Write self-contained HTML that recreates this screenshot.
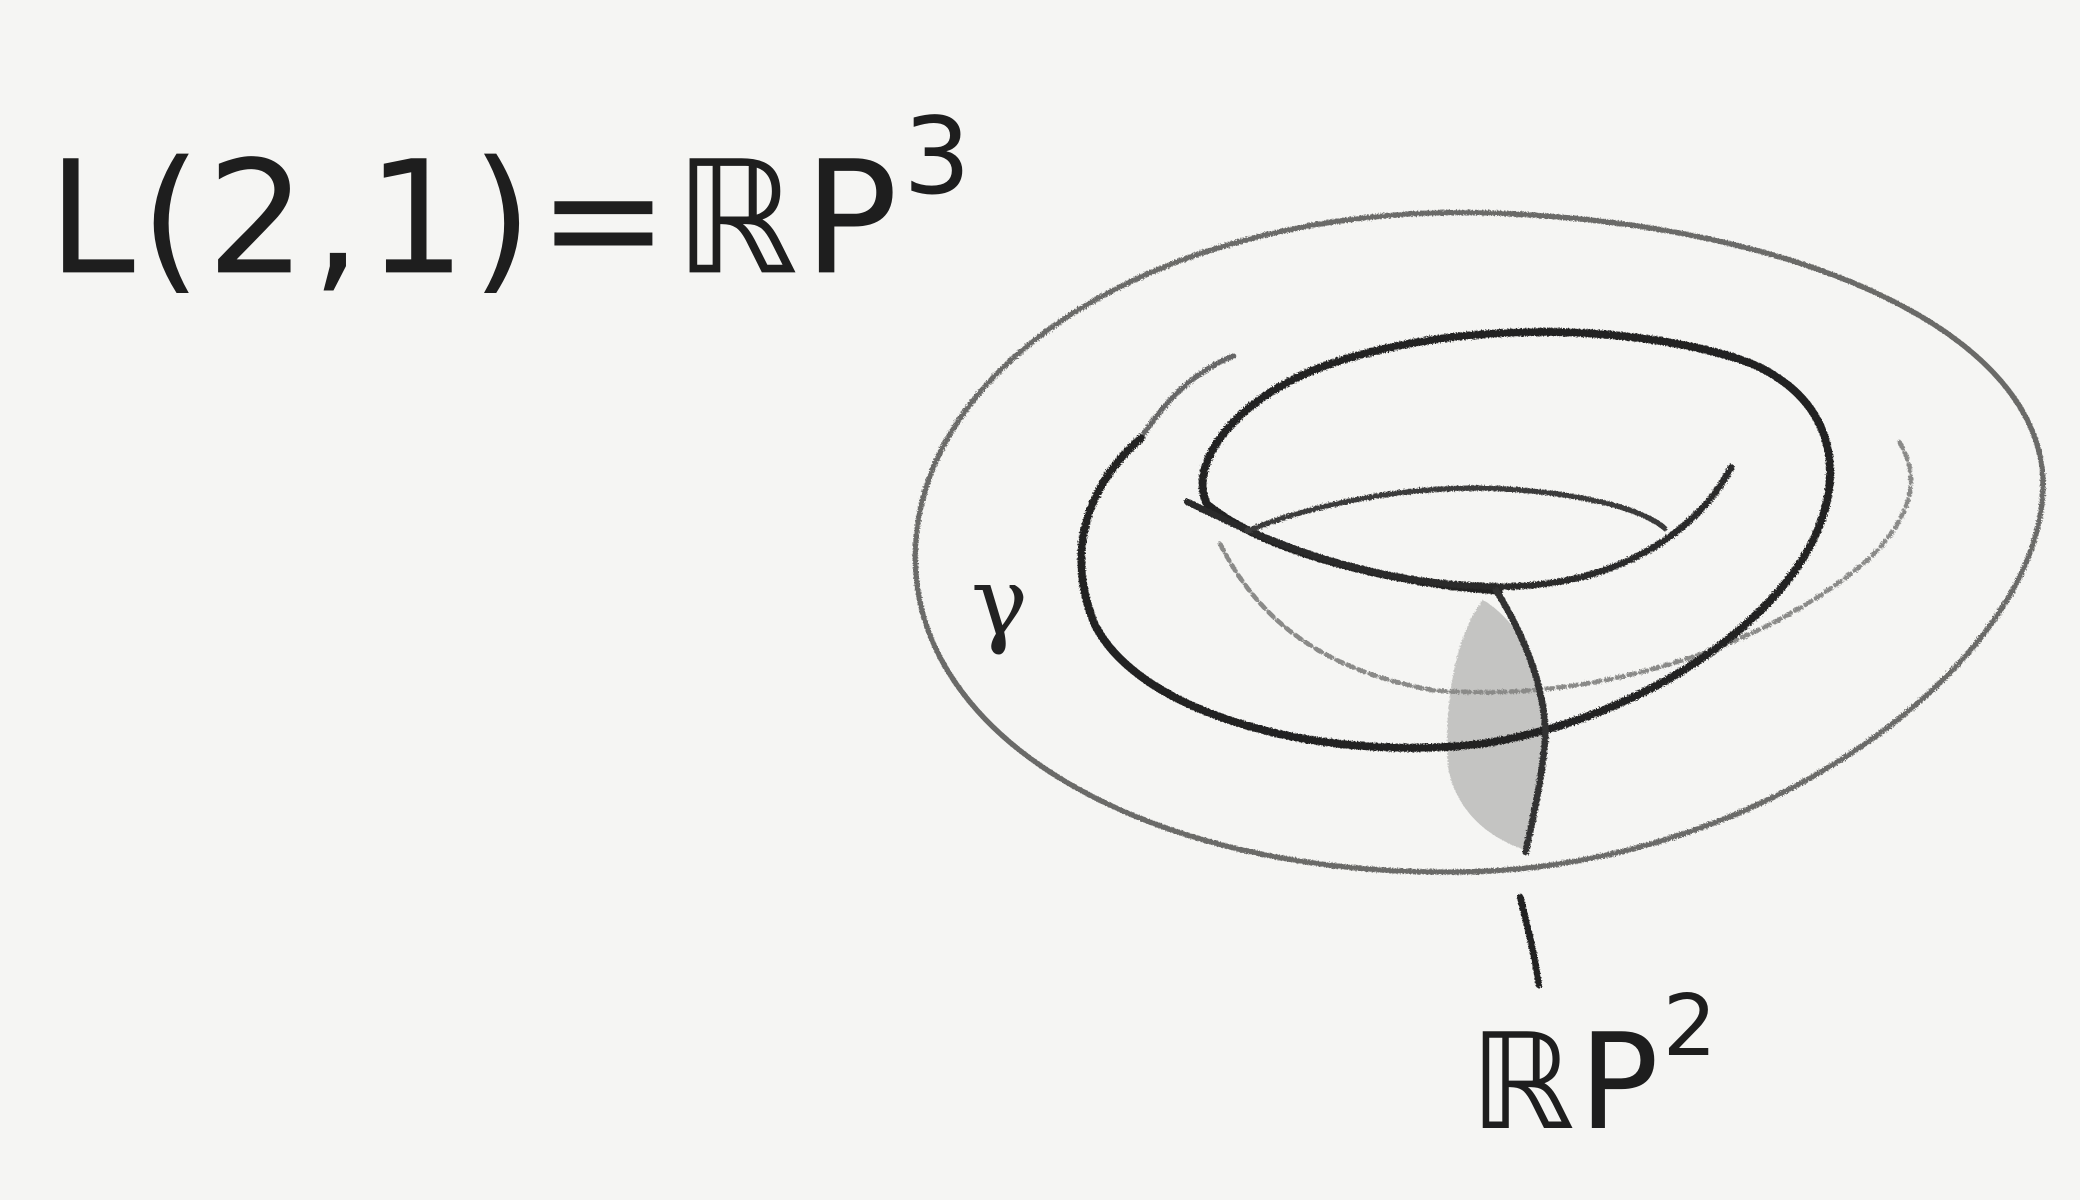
<!DOCTYPE html>
<html><head><meta charset="utf-8"><style>
html,body{margin:0;padding:0;background:#f5f5f3;}
svg{display:block;}
</style></head><body>
<svg width="2080" height="1200" viewBox="0 0 1568 904" xmlns="http://www.w3.org/2000/svg">
<defs>
<filter id="pencil"><feTurbulence type="fractalNoise" baseFrequency="0.9" numOctaves="2" seed="3" result="n"/><feDisplacementMap in="SourceGraphic" in2="n" scale="3"/></filter>
</defs>
<rect width="1568" height="904" fill="#f5f5f3"/>
<g filter="url(#pencil)" fill="none" stroke-linecap="round" stroke-linejoin="round">
<path d="M1118,452 C1095,480 1088,540 1092,580 C1098,610 1120,630 1148,640 C1160,600 1168,560 1162,520 C1155,490 1140,465 1118,452 Z" fill="#c4c4c2" stroke="none"/>
<path d="M1112,160 C1350,165 1545,250 1540,370 C1535,500 1330,655 1100,657 C870,660 690,560 690,420 C690,270 880,157 1112,160 Z" stroke="#6a6a68" stroke-width="4"/>
<path d="M920,410 C950,470 1000,505 1080,520 C1200,530 1330,490 1410,420 C1440,390 1450,360 1430,330" stroke="#8a8a88" stroke-width="3.5" stroke-dasharray="5 4"/>
<path d="M860,330 C880,300 900,280 930,268" stroke="#666" stroke-width="4"/>
<path d="M1130,445 C1060,440 960,420 910,380 C895,350 930,300 1000,275 C1100,240 1230,245 1310,270 C1370,290 1395,340 1370,400 C1340,470 1240,540 1120,560 C1000,575 860,540 825,470 C805,420 815,370 860,330" stroke="#222" stroke-width="6"/>
<path d="M895,378 C960,410 1030,440 1130,442 C1220,442 1280,400 1305,352" stroke="#2a2a2a" stroke-width="5"/>
<path d="M940,400 C990,380 1060,365 1130,368 C1200,372 1240,385 1255,398" stroke="#3a3a3a" stroke-width="4"/>
<path d="M1128,445 C1150,480 1165,520 1165,555 C1162,590 1155,620 1150,642" stroke="#333" stroke-width="5"/>
<path d="M1146,676 C1152,700 1157,720 1160,742" stroke="#222" stroke-width="5"/>
</g>
<text x="732" y="478" font-family="'DejaVu Serif','Liberation Serif',serif" font-size="72" fill="#222">γ</text>
<text x="36" y="205" font-family="'DejaVu Sans','Liberation Sans',sans-serif" font-size="118" fill="#1e1e1e" letter-spacing="4">L(2,1)=ℝP<tspan font-size="80" dy="-60">3</tspan></text>
<text x="1108" y="850" font-family="'DejaVu Sans','Liberation Sans',sans-serif" font-size="100" fill="#1e1e1e" letter-spacing="3">ℝP<tspan font-size="64" dy="-55">2</tspan></text>
</svg>
</body></html>
